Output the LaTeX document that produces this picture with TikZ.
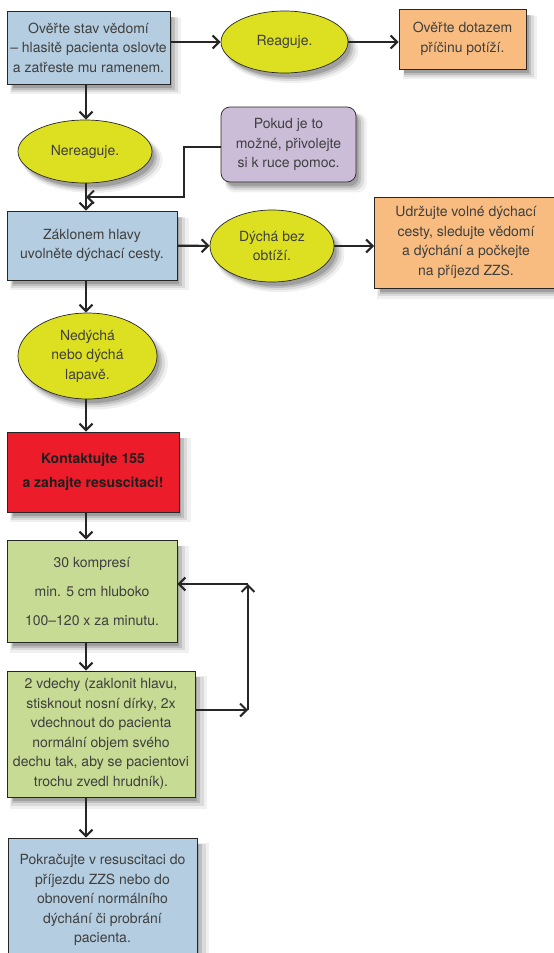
\documentclass[tikz,border=0pt]{standalone}
\usepackage{fontspec}
\setmainfont{TeX Gyre Heros}
\usetikzlibrary{arrows.meta,shapes.geometric,shadows}
\definecolor{boxblue}{HTML}{B5CDE0}
\definecolor{ovalyellow}{HTML}{DDE021}
\definecolor{boxorange}{HTML}{F8BC80}
\definecolor{boxpurple}{HTML}{CBBDD8}
\definecolor{boxred}{HTML}{ED1C2A}
\definecolor{boxgreen}{HTML}{C7DB94}
\definecolor{linegray}{HTML}{262626}
\definecolor{textgray}{HTML}{3F3F3F}
\tikzset{
  soft shadow/.style={
    drop shadow={shadow xshift=7pt,shadow yshift=-8pt,opacity=.06,fill=black,shadow scale=1.05},
    drop shadow={shadow xshift=6pt,shadow yshift=-7pt,opacity=.09,fill=black,shadow scale=1.025},
    drop shadow={shadow xshift=5pt,shadow yshift=-6pt,opacity=.13,fill=black},
    drop shadow={shadow xshift=4pt,shadow yshift=-5pt,opacity=.16,fill=black,shadow scale=.98}},
  block/.style={rectangle,draw=linegray,line width=.7pt,align=center,text=textgray,
    inner sep=1pt,font=\fontsize{14}{19.5}\selectfont,soft shadow},
  blue box/.style={block,fill=boxblue},
  orange box/.style={block,fill=boxorange},
  green box/.style={block,fill=boxgreen},
  purple box/.style={block,fill=boxpurple,rounded corners=9pt},
  red box/.style={block,fill=boxred,text=black!88,font=\bfseries\fontsize{14}{24}\selectfont},
  oval/.style={block,ellipse,fill=ovalyellow},
  flow/.style={draw=linegray,line width=2.1pt,-{Straight Barb[length=6.5pt,width=13pt]}}
}
\begin{document}
\begin{tikzpicture}[x=1pt,y=-1pt]
  \useasboundingbox (0,0) rectangle (554,953);
  \node[blue box,minimum width=163pt,minimum height=73pt] (check) at (88.5,47.5) {Ověřte stav vědomí\\– hlasitě pacienta oslovte\\a zatřeste mu ramenem.};
  \node[oval,minimum width=127pt,minimum height=62pt] (react) at (284.5,42) {Reaguje.};
  \node[orange box,minimum width=127pt,minimum height=60pt] (ask) at (462.5,39) {Ověřte dotazem\\příčinu potíží.};
  \node[oval,minimum width=134pt,minimum height=63pt] (noreact) at (85,151.5) {Nereaguje.};
  \node[purple box,minimum width=135pt,minimum height=75pt] (help) at (288.5,144.5) {Pokud je to\\možné, přivolejte\\si k ruce pomoc.};
  \node[blue box,minimum width=170pt,minimum height=69pt] (airway) at (92,245.5) {Záklonem hlavy\\uvolněte dýchací cesty.};
  \node[oval,minimum width=124pt,minimum height=72pt] (breath) at (272,246) {Dýchá bez\\obtíží.};
  \node[orange box,minimum width=183pt,minimum height=91pt] (wait) at (466,242.5) {Udržujte volné dýchací\\cesty, sledujte vědomí\\a dýchání a počkejte\\na příjezd ZZS.};
  \node[oval,minimum width=139pt,minimum height=86pt] (nobreath) at (87.5,356) {Nedýchá\\nebo dýchá\\lapavě.};
  \node[red box,minimum width=172pt,minimum height=80pt] (call) at (93,472) {Kontaktujte 155\\a zahajte resuscitaci!};
  \node[green box,minimum width=170pt,minimum height=102pt,font=\fontsize{14}{29}\selectfont] (press) at (92,591) {30 kompresí\\min. 5 cm hluboko\\100–120 x za minutu.};
  \node[green box,minimum width=188pt,minimum height=126pt] (blow) at (101,734) {2 vdechy (zaklonit hlavu,\\stisknout nosní dírky, 2x\\vdechnout do pacienta\\normální objem svého\\dechu tak, aby se pacientovi\\trochu zvedl hrudník).};
  \node[blue box,minimum width=189pt,minimum height=124pt] (goon) at (102.5,900) {Pokračujte v resuscitaci do\\příjezdu ZZS nebo do\\obnovení normálního\\dýchání či probrání\\pacienta.};
  \coordinate (axis) at (86,0);
  \coordinate (bend1) at (184,147);
  \coordinate (bend2) at (184,197);
  \coordinate (loopbot) at (248,710);
  \coordinate (looptop) at (248,584);
  \begin{scope}[every edge/.style={flow}]
    \path (check.east |- react) edge (react);
    \path (react) edge (ask.west |- react);
    \path (check.south -| axis) edge (noreact.north -| axis);
    \path (noreact.south -| axis) edge (airway.north -| axis);
    \path (airway) edge (breath);
    \path (breath) edge (wait.west |- breath);
    \path (airway.south -| axis) edge (nobreath.north -| axis);
    \path (nobreath.south -| axis) edge (call.north -| axis);
    \path (call.south -| axis) edge (press.north -| axis);
    \path (press.south -| axis) edge (blow.north -| axis);
    \path (blow.south -| axis) edge (goon.north -| axis);
    \path (blow.east |- loopbot) edge (loopbot);
    \path (loopbot) edge (looptop);
    \path (looptop) edge (press.east |- looptop);
  \end{scope}
  \draw[flow] (help.west |- bend1) -- (bend1) -- (bend2) -- (bend2 -| axis);
\end{tikzpicture}
\end{document}
